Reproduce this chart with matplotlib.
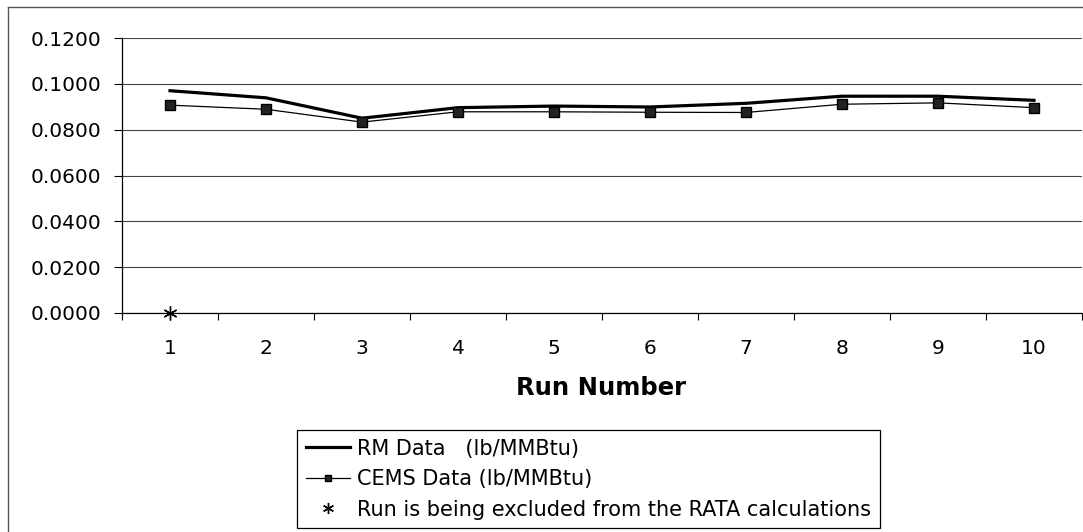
#!/usr/bin/env python3

import matplotlib
matplotlib.use("Agg")
import matplotlib.pyplot as plt
from matplotlib.lines import Line2D

# Run data
runs = [1, 2, 3, 4, 5, 6, 7, 8, 9, 10]
rm_data = [0.0970, 0.0939, 0.0850, 0.0896, 0.0903, 0.0899, 0.0915, 0.0946, 0.0946, 0.0928]
cems_data = [0.0907, 0.0889, 0.0833, 0.0878, 0.0878, 0.0876, 0.0875, 0.0911, 0.0917, 0.0896]
excluded_runs = [1]
excluded_values = [0.0]
y_ticks = [0.0, 0.02, 0.04, 0.06, 0.08, 0.10, 0.12]

plt.rcParams["font.family"] = ["DejaVu Sans"]

W, H = 1083, 532
fig = plt.figure(figsize=(W / 100, H / 100), dpi=100)
ax = fig.add_axes([122 / W, 1 - 313 / H, (1082 - 122) / W, (313 - 38) / H])

ax.plot(runs, rm_data, color="black", lw=2.3, solid_joinstyle="round", zorder=3)
ax.plot(runs, cems_data, color="black", lw=0.9, marker="s", markersize=7,
        markerfacecolor="#222222", markeredgecolor="black", zorder=4)
ax.plot(excluded_runs, excluded_values, linestyle="none", marker=(6, 2, 0),
        markersize=10, color="black", markeredgewidth=1.0, zorder=5, clip_on=False)

ax.set_xlim(0.5, 10.5)
ax.set_ylim(0, 0.12)
ax.set_yticks(y_ticks)
ax.set_yticklabels([f"{v:.4f}" for v in y_ticks])
ax.set_xticks(runs)
ax.set_xticklabels([str(r) for r in runs])
ax.set_xticks([r + 0.5 for r in [0] + runs], minor=True)

ax.tick_params(axis="y", which="major", direction="out", length=6, width=0.8,
               pad=9, labelsize=14.5, colors="black")
ax.tick_params(axis="x", which="major", length=0, pad=18.5, labelsize=14.5)
ax.tick_params(axis="x", which="minor", direction="out", length=5, width=0.8)

ax.grid(axis="y", color="#444444", lw=0.8)
ax.set_axisbelow(True)
for side in ("top", "right"):
    ax.spines[side].set_visible(False)
for side in ("left", "bottom"):
    ax.spines[side].set_color("black")
    ax.spines[side].set_linewidth(0.9)

fig.text(601 / W, 1 - 388 / H, "Run Number", ha="center", va="center",
         fontsize=17.5, fontweight="bold")

# outer chart frame (top and left edges visible in the reference)
fig.add_artist(Line2D([8 / W, 8 / W], [0, 1 - 7 / H], color="#555555", lw=1.0))
fig.add_artist(Line2D([8 / W, 1.0], [1 - 7 / H, 1 - 7 / H], color="#555555", lw=1.0))

handles = [
    Line2D([], [], color="black", lw=2.3),
    Line2D([], [], color="black", lw=0.9, marker="s", markersize=5,
           markerfacecolor="#222222", markeredgecolor="black"),
    Line2D([], [], linestyle="none", marker=(6, 2, 0), markersize=8,
           color="black", markeredgewidth=1.0),
]
labels = [
    "RM Data   (lb/MMBtu)",
    "CEMS Data (lb/MMBtu)",
    "Run is being excluded from the RATA calculations",
]
leg = fig.legend(handles, labels, loc="upper left",
                 bbox_to_anchor=(297 / W, 1 - 430 / H), borderaxespad=0,
                 fontsize=15, frameon=True, fancybox=False, edgecolor="black",
                 framealpha=1, handlelength=2.1, handletextpad=0.35,
                 borderpad=0.42, labelspacing=0.5)
leg.get_frame().set_linewidth(0.9)

fig.savefig("out.png", dpi=100)
